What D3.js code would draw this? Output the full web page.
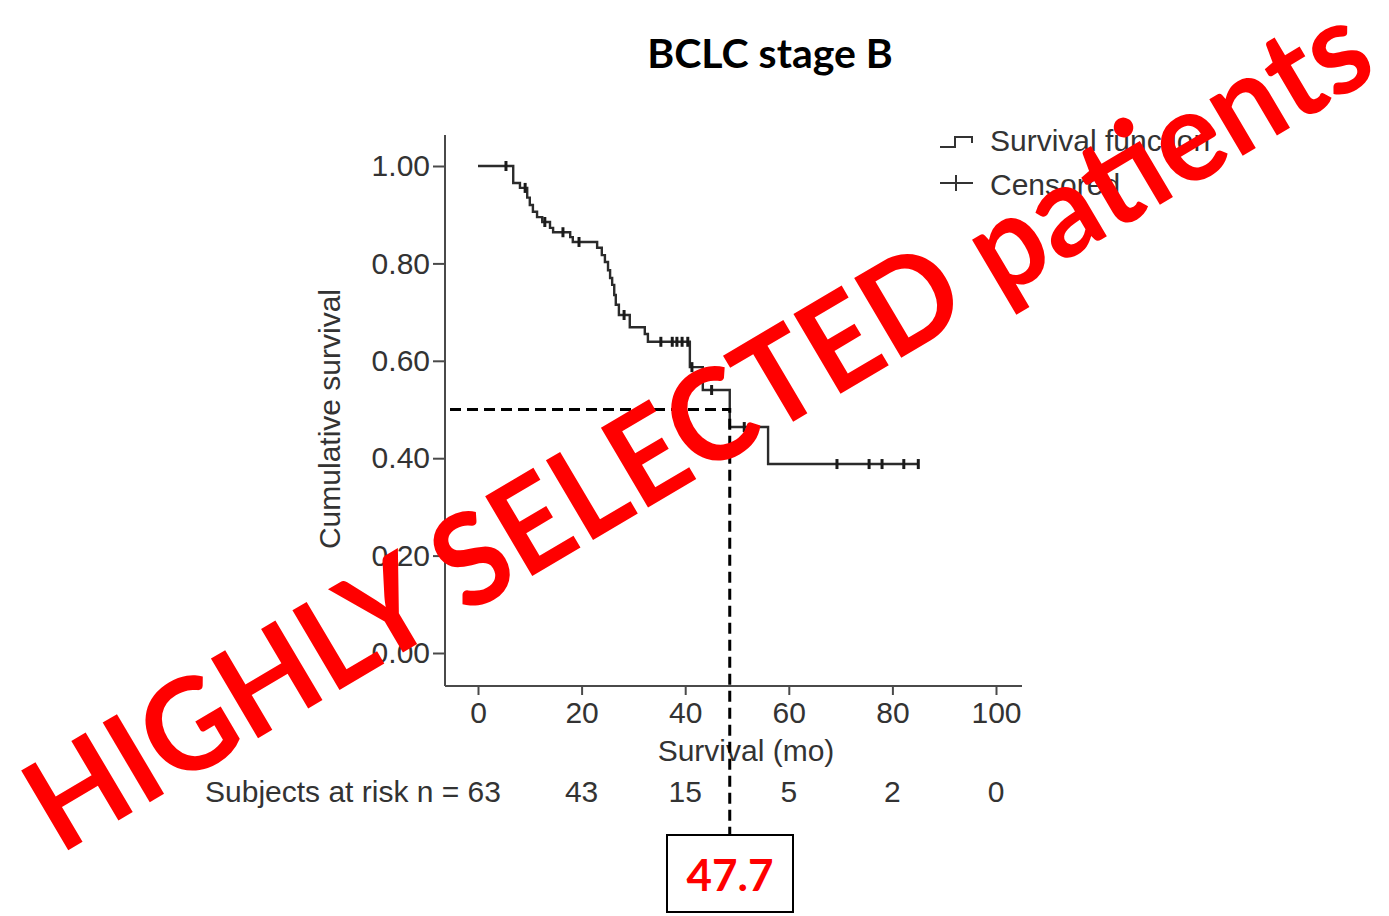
<!DOCTYPE html>
<html>
<head>
<meta charset="utf-8">
<script src="https://cdn.jsdelivr.net/npm/d3@7"></script>
<style>
	body { margin: 0; background: #fff; }
	svg text { font-family: "Liberation Sans", Arial, sans-serif; }
</style>
</head>
<body>
<div id="chart"></div>
<script>
'use strict';

// ----------   Data   --------------------------------- //

const stepTimes    = [0, 6.8, 8.1, 9.5, 10.0, 10.6, 11.4, 12.4, 13.9, 14.5, 17.8, 18.3, 23.0, 23.9, 24.5, 25.1, 25.5, 25.9, 26.3, 26.6, 27.2, 29.3, 32.2, 32.8, 40.9, 43.4, 48.6, 56.0];
const stepSurvival = [1.0, 0.965, 0.955, 0.935, 0.920, 0.906, 0.895, 0.885, 0.873, 0.864, 0.854, 0.844, 0.832, 0.817, 0.803, 0.786, 0.770, 0.756, 0.735, 0.715, 0.694, 0.669, 0.655, 0.639, 0.587, 0.540, 0.464, 0.388];
const censorTimes  = [5.4, 9.1, 12.9, 16.4, 19.5, 28.2, 35.3, 37.5, 38.4, 39.4, 40.5, 41.3, 45.1, 51.4, 69.3, 75.5, 78.0, 82.2, 85.0];
const lastTime     = 85.0;

const xTicks     = [0, 20, 40, 60, 80, 100];
const yTicks     = [0, 0.2, 0.4, 0.6, 0.8, 1.0];
const riskCounts = [63, 43, 15, 5, 2, 0];

const medianSurvival = 0.5;
const medianLineTime = 48.6;
const medianLabel    = "47.7";

const title       = "BCLC stage B";
const legendItems = ["Survival function", "Censored"];
const stamp       = "HIGHLY SELECTED patients";


const survivalAt = t =>
{
	const i = d3.bisectRight(stepTimes, t) - 1;
	return stepSurvival[Math.max(i, 0)];
};


const drawChart = () =>
{
	const width  = 1389;
	const height = 916;
	const axisGray = "#4a4a4a";
	const textGray = "#333";
	const fontSize = "30px";
	const x = d3.scaleLinear().domain([0, 100]).range([478, 996]);
	const y = d3.scaleLinear().domain([0, 1]).range([653, 166]);
	const axisX = 445;
	const axisY = 686;

	const svg = d3.select("#chart")
		.append("svg")
		.attr("width", width)
		.attr("height", height);

	// title
	svg.append("text")
		.attr("x", 770)
		.attr("y", 68)
		.attr("text-anchor", "middle")
		.style("font-family", "Lato, 'Open Sans', sans-serif")
		.style("font-weight", "bold")
		.style("font-size", "41px")
		.attr("fill", "#000")
		.text(title);

	// axes lines
	svg.append("line")
		.attr("x1", axisX).attr("x2", axisX)
		.attr("y1", 135).attr("y2", axisY)
		.attr("stroke", axisGray).attr("stroke-width", 2);

	svg.append("line")
		.attr("x1", axisX).attr("x2", 1022)
		.attr("y1", axisY).attr("y2", axisY)
		.attr("stroke", axisGray).attr("stroke-width", 2);

	const yAxis = svg.append("g")
		.attr("transform", "translate(" + axisX + ",0)")
		.call(d3.axisLeft(y).tickValues(yTicks).tickFormat(d3.format(".2f")).tickSize(12).tickPadding(3));

	const xAxis = svg.append("g")
		.attr("transform", "translate(0," + axisY + ")")
		.call(d3.axisBottom(x).tickValues(xTicks).tickSize(9).tickPadding(7));

	[xAxis, yAxis].forEach(g =>
	{
		g.select(".domain").remove();
		g.selectAll("line").attr("stroke", axisGray).attr("stroke-width", 2);
		g.selectAll("text")
			.attr("fill", textGray)
			.style("font-family", "'Liberation Sans', Arial, sans-serif")
			.style("font-size", fontSize);
	});

	// axis titles
	svg.append("text")
		.attr("transform", "translate(340,419) rotate(-90)")
		.attr("text-anchor", "middle")
		.attr("fill", textGray)
		.style("font-size", fontSize)
		.text("Cumulative survival");

	svg.append("text")
		.attr("x", 746)
		.attr("y", 761)
		.attr("text-anchor", "middle")
		.attr("fill", textGray)
		.style("font-size", fontSize)
		.text("Survival (mo)");

	// numbers at risk
	svg.selectAll(".risk")
		.data(riskCounts)
		.enter()
			.append("text")
			.attr("class", "risk")
			.attr("x", (d, i) => i === 0 ? x(xTicks[i]) + 23 : x(xTicks[i]))
			.attr("y", 802)
			.attr("text-anchor", (d, i) => i === 0 ? "end" : "middle")
			.attr("fill", textGray)
			.style("font-size", fontSize)
			.text((d, i) => i === 0 ? "Subjects at risk n = " + d : d);

	// survival step curve
	const curveData = stepTimes.map((t, i) => [t, stepSurvival[i]]);
	curveData.push([lastTime, stepSurvival[stepSurvival.length - 1]]);

	svg.append("path")
		.datum(curveData)
		.attr("fill", "none")
		.attr("stroke", "#2b2b2b")
		.attr("stroke-width", 2.4)
		.attr("d", d3.line().x(d => x(d[0])).y(d => y(d[1])).curve(d3.curveStepAfter));

	svg.selectAll(".censor")
		.data(censorTimes)
		.enter()
			.append("line")
			.attr("class", "censor")
			.attr("x1", t => x(t)).attr("x2", t => x(t))
			.attr("y1", t => y(survivalAt(t)) - 5)
			.attr("y2", t => y(survivalAt(t)) + 5)
			.attr("stroke", "#1a1a1a")
			.attr("stroke-width", 3);

	// legend
	const legend = svg.append("g").attr("transform", "translate(940,0)");

	legend.append("path")
		.attr("d", "M0,147H15V137H32V143")
		.attr("fill", "none")
		.attr("stroke", textGray)
		.attr("stroke-width", 2);

	legend.append("path")
		.attr("d", "M0,183H33M16,175V191")
		.attr("fill", "none")
		.attr("stroke", textGray)
		.attr("stroke-width", 2);

	legend.selectAll(".leg")
		.data(legendItems)
		.enter()
			.append("text")
			.attr("class", "leg")
			.attr("x", 50)
			.attr("y", (d, i) => 151 + i * 44)
			.attr("fill", textGray)
			.style("font-size", fontSize)
			.text(d => d);

	// median guide lines
	const mx = x(medianLineTime);
	const my = y(medianSurvival);

	svg.append("path")
		.attr("d", "M450," + my + "H" + mx + "V835")
		.attr("fill", "none")
		.attr("stroke", "#000")
		.attr("stroke-width", 3)
		.attr("stroke-dasharray", "11,6");

	svg.append("rect")
		.attr("x", 667)
		.attr("y", 835)
		.attr("width", 126)
		.attr("height", 77)
		.attr("fill", "#fff")
		.attr("stroke", "#000")
		.attr("stroke-width", 2);

	svg.append("text")
		.attr("x", 730)
		.attr("y", 891)
		.attr("text-anchor", "middle")
		.attr("fill", "#ff0000")
		.style("font-family", "Lato, 'Open Sans', sans-serif")
		.style("font-weight", "bold")
		.style("font-size", "44px")
		.text(medianLabel);

	// stamp over the chart
	svg.append("text")
		.attr("transform", "translate(697,425) rotate(-30.6)")
		.attr("text-anchor", "middle")
		.attr("dy", "0.36em")
		.attr("textLength", 1535)
		.attr("lengthAdjust", "spacingAndGlyphs")
		.attr("fill", "#ff0000")
		.style("font-family", "Lato, 'Open Sans', sans-serif")
		.style("font-weight", "bold")
		.style("font-size", "128px")
		.text(stamp);
};


document.addEventListener("DOMContentLoaded", () =>
{
	drawChart();
}, false);
</script>
</body>
</html>
